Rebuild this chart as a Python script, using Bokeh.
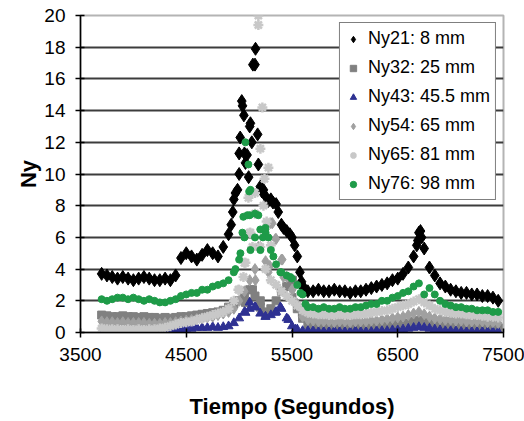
from bokeh.plotting import figure
from bokeh.models import FixedTicker, Range1d, Legend, LegendItem, ColumnDataSource
from bokeh.embed import file_html
from bokeh.resources import INLINE

# ---- data (time in seconds, Ny values) ----
T = [3700, 3750, 3800, 3850, 3900, 3950, 4000, 4050, 4100, 4150, 4200, 4250, 4300, 4350, 4400,
     4450, 4500, 4550, 4600, 4650, 4700, 4750, 4800, 4850, 4900,
     4950, 5000, 5050, 5100, 5150, 5200, 5250, 5300, 5350, 5400, 5450, 5500, 5550,
     5600, 5650, 5700, 5750, 5800, 5850, 5900, 5950, 6000, 6050, 6100, 6150, 6200, 6250, 6300,
     6350, 6400, 6450, 6500, 6550, 6600, 6650, 6700, 6750, 6800, 6850, 6900, 6950, 7000, 7050,
     7100, 7150, 7200, 7250, 7300, 7350, 7400, 7450]

NY21 = [3.7, 3.6, 3.5, 3.4, 3.5, 3.4, 3.3, 3.4, 3.5, 3.4, 3.3, 3.3, 3.4, 3.3, 3.6,
        4.7, 5.0, 4.8, 4.6, 4.9, 5.2, 5.0, 4.8, 5.4, 6.2,
        8.4, 10.0, 11.3, 13.0, 16.9, 9.2, 8.6, 8.4, 8.1, 6.8, 6.4, 6.0, 4.8,
        2.9, 2.6, 2.6, 2.7, 2.6, 2.6, 2.7, 2.6, 2.6, 2.5, 2.6, 2.6, 2.7, 2.8, 2.9,
        3.0, 3.1, 3.3, 3.4, 3.7, 4.1, 4.8, 6.3, 5.3, 4.1, 3.6, 3.1, 2.9, 2.7, 2.6,
        2.5, 2.5, 2.4, 2.4, 2.3, 2.3, 2.2, 2.0]
NY21_T_EXTRA = [4925, 4940, 4965, 4985, 5000, 5010, 5025, 5032, 5045, 5060, 5075, 5090, 5107, 5120,
                5130, 5155, 5175, 5182, 5215, 5230, 5275, 5320, 5370, 5420, 5480, 5525, 5575, 5590,
                5625, 6680, 6690, 6715, 6725]
NY21_EXTRA = [6.8, 7.6, 8.8, 9.0, 11.3, 12.3, 14.6, 14.3, 13.7, 10.7, 11.2, 9.8, 13.2, 12.0,
              16.9, 17.9, 12.5, 10.6, 8.9, 9.0, 8.3, 8.2, 7.6, 6.6, 6.2, 5.5, 3.8, 3.2,
              2.7, 5.5, 5.8, 6.4, 6.0]

NY32 = [1.1, 1.05, 1.0, 1.0, 1.05, 1.0, 1.0, 0.95, 1.0, 0.95, 0.95, 0.9, 0.95, 0.9, 0.95,
        1.0, 1.0, 1.05, 1.1, 1.15, 1.2, 1.25, 1.3, 1.4, 1.6,
        1.8, 2.0, 2.2, 2.7, 2.3, 1.6, 1.3, 1.5, 2.0, 2.6, 2.9, 2.2, 1.5,
        0.9, 0.5, 0.4, 0.4, 0.35, 0.35, 0.35, 0.3, 0.35, 0.3, 0.3, 0.35, 0.3, 0.35, 0.35,
        0.4, 0.4, 0.45, 0.5, 0.55, 0.6, 0.7, 0.75, 0.65, 0.6, 0.55, 0.5, 0.45, 0.45, 0.4,
        0.4, 0.4, 0.35, 0.35, 0.35, 0.35, 0.3, 0.3]
NY32_T_EXTRA = [5060, 5126, 5200, 5249, 5466, 5504, 5598]
NY32_EXTRA = [1.9, 2.7, 2.0, 1.25, 2.9, 3.3, 1.25]

NY43 = [0.05, 0.05, 0.05, 0.05, 0.0, 0.0, 0.0, 0.0, 0.0, 0.0, 0.0, 0.05, 0.05, 0.1, 0.15,
        0.2, 0.25, 0.25, 0.3, 0.3, 0.3, 0.35, 0.3, 0.35, 0.4,
        0.6, 0.9, 1.3, 1.5, 1.6, 1.2, 1.0, 1.1, 1.3, 1.5, 0.9, 0.4, 0.2,
        0.1, 0.1, 0.1, 0.05, 0.05, 0.05, 0.1, 0.05, 0.05, 0.05, 0.1, 0.05, 0.05, 0.05, 0.1,
        0.1, 0.1, 0.15, 0.15, 0.2, 0.25, 0.3, 0.35, 0.3, 0.25, 0.2, 0.15, 0.1, 0.1, 0.1,
        0.05, 0.05, 0.05, 0.05, 0.05, 0.05, 0.05, 0.05]
NY43_T_EXTRA = [5060, 5100, 5154, 5249, 5343, 5390, 5466, 5532]
NY43_EXTRA = [1.25, 1.9, 1.6, 1.0, 1.25, 1.6, 0.8, 0.2]

NY54 = [0.7, 0.65, 0.65, 0.6, 0.65, 0.6, 0.6, 0.6, 0.6, 0.55, 0.55, 0.55, 0.6, 0.6, 0.65,
        0.7, 0.75, 0.8, 0.85, 0.9, 0.95, 1.0, 1.1, 1.2, 1.3,
        1.5, 2.0, 2.6, 3.3, 4.0, 5.4, 4.5, 6.9, 5.9, 4.6, 3.5, 2.7, 1.8,
        1.0, 0.8, 0.75, 0.7, 0.7, 0.7, 0.65, 0.7, 0.7, 0.65, 0.7, 0.7, 0.7, 0.75, 0.75,
        0.8, 0.85, 0.9, 0.95, 1.0, 1.1, 1.2, 1.3, 1.15, 1.0, 0.9, 0.85, 0.8, 0.8, 0.75,
        0.75, 0.7, 0.7, 0.7, 0.7, 0.65, 0.65, 0.6]
NY54_T_EXTRA = [5154, 5182, 5250, 5277, 5290, 5315, 5343, 5409, 5419, 5504]
NY54_EXTRA = [3.3, 5.4, 6.5, 3.8, 4.2, 6.9, 5.9, 4.6, 3.5, 2.7]

NY65 = [0.25, 0.2, 0.2, 0.2, 0.15, 0.2, 0.15, 0.2, 0.15, 0.2, 0.2, 0.25, 0.3, 0.4, 0.5,
        0.6, 0.65, 0.7, 0.8, 0.9, 1.0, 1.1, 1.2, 1.3, 1.5,
        2.0, 2.7, 4.4, 6.3, 8.8, 5.4, 4.0, 3.3, 3.0, 2.6, 2.3, 2.0, 1.7,
        1.4, 1.25, 1.2, 1.15, 1.15, 1.1, 1.1, 1.15, 1.1, 1.1, 1.15, 1.15, 1.2, 1.25, 1.3,
        1.35, 1.4, 1.5, 1.6, 1.7, 1.8, 1.95, 2.1, 1.9, 1.7, 1.5, 1.4, 1.3, 1.25, 1.2,
        1.2, 1.15, 1.1, 1.1, 1.05, 1.0, 1.0, 0.95]
NY65_T_EXTRA = [4993, 5041, 5060, 5088, 5107, 5126, 5150, 5182, 5182, 5201, 5220, 5230, 5240,
                5260, 5277, 5300]
NY65_EXTRA = [2.7, 3.5, 4.4, 8.5, 6.3, 5.4, 7.5, 20.0, 19.4, 11.6, 14.2, 8.0, 9.7,
              7.0, 10.4, 5.5]

NY76 = [2.1, 2.0, 2.1, 2.2, 2.2, 2.1, 2.2, 2.1, 2.0, 2.1, 2.0, 1.9, 1.9, 2.0, 2.1,
        2.3, 2.4, 2.5, 2.5, 2.7, 2.7, 2.9, 3.0, 3.1, 3.3,
        3.8, 4.6, 6.0, 7.4, 6.0, 6.5, 6.3, 5.2, 4.3, 3.8, 3.6, 3.4, 3.0,
        2.4, 1.6, 1.6, 1.5, 1.6, 1.5, 1.5, 1.6, 1.5, 1.5, 1.6, 1.6, 1.7, 1.8, 1.8,
        2.0, 2.0, 2.2, 2.3, 2.5, 2.6, 2.9, 3.1, 2.4, 2.8, 2.4, 2.0, 1.8, 1.7, 1.6,
        1.6, 1.5, 1.5, 1.4, 1.4, 1.4, 1.3, 1.3]
NY76_T_EXTRA = [4965, 5012, 5031, 5040, 5060, 5078, 5088, 5095, 5107, 5107, 5150, 5182, 5201,
                5225, 5249, 5277, 5324, 5390, 5485, 5580, 5627]
NY76_EXTRA = [4.0, 5.0, 6.3, 7.3, 12.0, 7.4, 10.6, 8.9, 9.0, 5.2, 7.5, 7.4, 5.2,
              6.0, 6.6, 6.0, 4.8, 3.8, 3.5, 2.5, 1.8]

LABELS = ["Ny21: 8 mm", "Ny32: 25 mm", "Ny43: 45.5 mm", "Ny54: 65 mm", "Ny65: 81 mm", "Ny76: 98 mm"]
X_TICKS = [3500, 4500, 5500, 6500, 7500]
Y_TICKS = [0, 2, 4, 6, 8, 10, 12, 14, 16, 18, 20]

FONT = "Liberation Sans"

p = figure(width=524, height=421, output_backend="svg", toolbar_location=None,
           x_range=Range1d(3500, 7500), y_range=Range1d(0, 20),
           min_border_left=80, min_border_right=21, min_border_top=15, min_border_bottom=88)
p.background_fill_color = "white"
p.border_fill_color = "white"
p.outline_line_color = "#b4b4b4"
p.outline_line_width = 2

p.xgrid.visible = False
p.ygrid.ticker = FixedTicker(ticks=Y_TICKS[1:-1])
p.ygrid.grid_line_color = "#3c3c3c"
p.ygrid.grid_line_width = 2

for ax in (p.xaxis[0], p.yaxis[0]):
    ax.axis_line_color = "black"
    ax.axis_line_width = 1.5
    ax.major_tick_line_color = "black"
    ax.major_tick_line_width = 1.5
    ax.major_tick_in = 4
    ax.major_tick_out = 5
    ax.minor_tick_line_color = None
    ax.major_label_text_font = FONT
    ax.major_label_text_font_size = "19px"
    ax.major_label_text_color = "black"
    ax.axis_label_text_font = FONT
    ax.axis_label_text_font_size = "22px"
    ax.axis_label_text_font_style = "bold"
    ax.axis_label_text_color = "black"

p.xaxis.ticker = FixedTicker(ticks=X_TICKS)
p.yaxis.ticker = FixedTicker(ticks=Y_TICKS)
p.xaxis.axis_label = "Tiempo (Segundos)"
p.yaxis.axis_label = "Ny"
p.xaxis.major_label_standoff = 10
p.yaxis.major_label_standoff = 10
p.xaxis.axis_label_standoff = 30
p.yaxis.axis_label_standoff = 0

series = [
    (LABELS[0], NY21, NY21_T_EXTRA, NY21_EXTRA, "diamond", "#000000", 13, 1),
    (LABELS[1], NY32, NY32_T_EXTRA, NY32_EXTRA, "square", "#808080", 8, 1),
    (LABELS[2], NY43, NY43_T_EXTRA, NY43_EXTRA, "triangle", "#2E3192", 9, 1),
    (LABELS[3], NY54, NY54_T_EXTRA, NY54_EXTRA, "diamond", "#A0A0A0", 11, 1),
    (LABELS[4], NY65, NY65_T_EXTRA, NY65_EXTRA, "asterisk", "#C8C8C8", 10, 2.5),
    (LABELS[5], NY76, NY76_T_EXTRA, NY76_EXTRA, "circle", "#1E9B48", 7, 1),
]

items = []
for label, ys, tx, ty, marker, color, size, lw in series:
    src = ColumnDataSource(dict(x=list(T) + list(tx), y=list(ys) + list(ty)))
    r = p.scatter("x", "y", source=src, marker=marker, size=size,
                  fill_color=color, line_color=color, line_width=lw)
    items.append(LegendItem(label=label, renderers=[r]))

legend = Legend(items=items, location="top_right", margin=7, padding=5, spacing=8,
                label_height=20, glyph_height=20, glyph_width=16, label_standoff=7,
                label_text_font=FONT, label_text_font_size="18px", label_text_color="black",
                border_line_color="black", border_line_width=1.2,
                background_fill_color="white", background_fill_alpha=1.0)
p.add_layout(legend)

open("out.html", "w").write(file_html(p, INLINE))
